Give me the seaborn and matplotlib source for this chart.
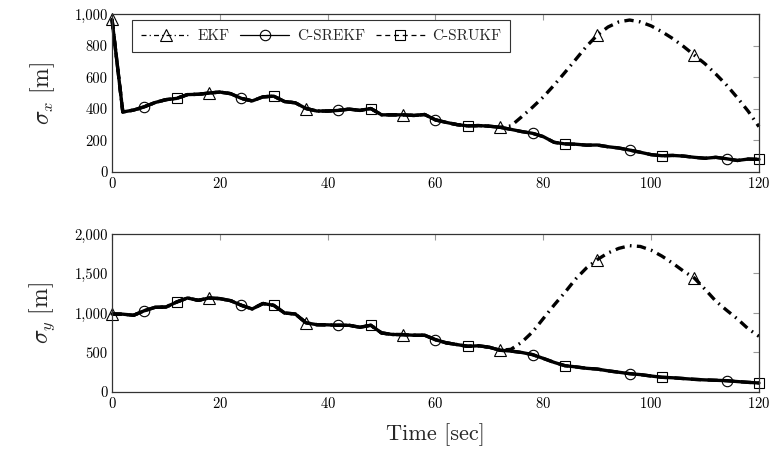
import numpy as np
import pandas as pd
import matplotlib
matplotlib.use("Agg")
import matplotlib.pyplot as plt
from matplotlib.lines import Line2D
from matplotlib.ticker import FuncFormatter
import seaborn as sns

# time grid (s)
time_s = list(range(0, 121, 2))

# sigma_x [m], shared by C-SREKF / C-SRUKF (and EKF up to 72 s)
sx_filter = [966, 380, 392, 413, 440, 458, 466, 490, 492, 500, 506, 496, 466, 450, 476, 480,
             446, 438, 402, 386, 386, 390, 398, 390, 402, 362, 362, 362, 358, 364, 330, 314,
             300, 292, 294, 290, 283, 270, 256, 245, 224, 188, 178, 176, 170, 171, 160, 152,
             139, 125, 110, 103, 105, 101, 93, 87, 93, 84, 73, 82, 80]
# EKF after it diverges (74..120 s)
sx_ekf_tail = [292, 350, 410, 475, 550, 630, 712, 795, 866, 918, 950, 962, 950, 925, 888,
               845, 795, 740, 685, 620, 550, 470, 385, 287]

# sigma_y [m]
sy_filter = [987, 985, 971, 1029, 1072, 1075, 1139, 1190, 1160, 1190, 1182, 1156, 1097, 1051,
             1120, 1097, 1000, 987, 875, 852, 850, 844, 844, 819, 845, 747, 728, 726, 718, 718,
             662, 622, 600, 578, 585, 566, 528, 518, 500, 473, 425, 375, 333, 318, 300, 290,
             268, 250, 232, 220, 202, 186, 180, 170, 160, 153, 148, 143, 132, 122, 114]
sy_ekf_tail = [540, 630, 760, 930, 1100, 1260, 1430, 1570, 1675, 1760, 1818, 1852, 1842, 1795,
               1720, 1630, 1530, 1443, 1300, 1150, 1035, 925, 800, 705]

n_common = len(time_s) - len(sx_ekf_tail)

sns.set_style("white")
plt.rcParams["font.family"] = ["cmr10", "DejaVu Serif"]
plt.rcParams["mathtext.fontset"] = "cm"
plt.rcParams["axes.formatter.use_mathtext"] = True
plt.rcParams["axes.unicode_minus"] = False

fig = plt.figure(figsize=(7.72, 4.54), dpi=100)
ax1 = fig.add_axes([0.1451, 0.6211, 0.838, 0.348])
ax2 = fig.add_axes([0.1451, 0.1366, 0.838, 0.348])

ekf_ls = (0, (2.8, 1.6, 0.5, 1.6))
styles = {
    "EKF": dict(marker="^", ls=ekf_ls, phase=0),
    "C-SREKF": dict(marker="o", ls="-", phase=3),
    "C-SRUKF": dict(marker="s", ls=(0, (3.0, 2.0)), phase=6),
}
msize = {"^": 9, "o": 7.5, "s": 7}


def draw(ax, common, tail, ymax, ystep, label):
    series = {
        "EKF": common[:n_common] + tail,
        "C-SREKF": common,
        "C-SRUKF": common,
    }
    for name, vals in series.items():
        st = styles[name]
        df = pd.DataFrame({"t": time_s, "v": vals})
        sns.lineplot(data=df, x="t", y="v", ax=ax, estimator=None, color="black",
                     linewidth=2.4, linestyle=st["ls"], marker=st["marker"],
                     markersize=msize[st["marker"]], markerfacecolor="none",
                     markeredgecolor="black", markeredgewidth=0.8,
                     markevery=(st["phase"], 9), clip_on=False, legend=False)
    ax.set_xlim(0, 120)
    ax.set_ylim(0, ymax)
    ax.set_xticks(range(0, 121, 20))
    ax.set_yticks(np.arange(0, ymax + 1, ystep))
    ax.yaxis.set_major_formatter(FuncFormatter(lambda v, p: f"{v:,.0f}"))
    ax.tick_params(direction="in", top=True, right=True, length=4, width=0.8,
                   color="#999999", labelsize=10.5, pad=3, labelcolor="black")
    for sp in ax.spines.values():
        sp.set_color("#333333")
        sp.set_linewidth(0.9)
    ax.set_xlabel("")
    ax.set_ylabel(label, fontsize=17)
    ax.yaxis.set_label_coords(-0.085, 0.5)


draw(ax1, sx_filter, sx_ekf_tail, 1000, 200, r"$\sigma_x\ [\mathrm{m}]$")
draw(ax2, sy_filter, sy_ekf_tail, 2000, 500, r"$\sigma_y\ [\mathrm{m}]$")

ax2.set_xlabel("Time [sec]", fontsize=16)
ax2.xaxis.set_label_coords(0.5, -0.2)

handles = [
    Line2D([], [], color="black", lw=0.9, ls=(0, (4, 2.5, 1, 2.5)), marker="^", ms=9,
           mfc="none", mec="black", mew=0.8),
    Line2D([], [], color="black", lw=0.9, ls="-", marker="o", ms=7.5,
           mfc="none", mec="black", mew=0.8),
    Line2D([], [], color="black", lw=0.9, ls=(0, (4, 3)), marker="s", ms=7,
           mfc="none", mec="black", mew=0.8),
]
leg = ax1.legend(handles, list(styles.keys()), ncol=3, loc="upper left",
                 bbox_to_anchor=(0.031, 0.962), borderaxespad=0, fontsize=11,
                 handlelength=3.2, handletextpad=0.5, columnspacing=0.7,
                 borderpad=0.6, fancybox=False, framealpha=1, edgecolor="#333333")
leg.get_frame().set_linewidth(0.8)

fig.savefig("out.png", dpi=100)
